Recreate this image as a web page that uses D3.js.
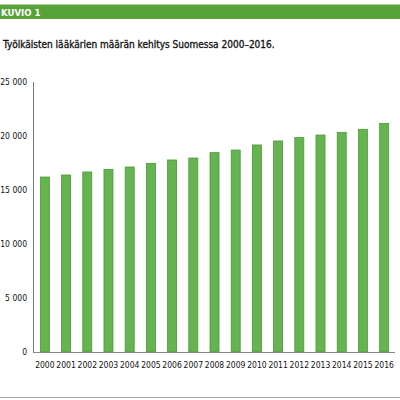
<!DOCTYPE html>
<html>
<head>
<meta charset="utf-8">
<script src="https://cdn.jsdelivr.net/npm/d3@7"></script>
<style>
  body { margin: 0; background: #fff; }
  svg { display: block; }
  text { font-family: "DejaVu Sans Condensed", "DejaVu Sans", sans-serif; }
</style>
</head>
<body>
<svg id="chart" width="400" height="400"></svg>
<script>
// data
var years = ['2000','2001','2002','2003','2004','2005','2006','2007','2008',
             '2009','2010','2011','2012','2013','2014','2015','2016'];
var doctors = [16200, 16390, 16670, 16910, 17130, 17470, 17780, 17960, 18460,
               18700, 19170, 19540, 19850, 20090, 20340, 20620, 21170];
var yTicks = [0, 5000, 10000, 15000, 20000, 25000];
var figLabel = 'KUVIO 1';
var title = 'Työikäisten lääkärien määrän kehitys Suomessa 2000–2016.';

var svg = d3.select('#chart');
var width = 400;

// header band
svg.append('rect').attr('x', 0).attr('y', 4).attr('width', width).attr('height', 1)
  .attr('fill', '#a9d08e');
svg.append('rect').attr('x', 0).attr('y', 5).attr('width', width).attr('height', 14)
  .attr('fill', '#58a23a');
svg.append('text').attr('x', 1).attr('y', 16)
  .attr('fill', '#fff').attr('font-size', 9.5).attr('font-weight', 'bold')
  .text(figLabel);

svg.append('text').attr('x', 3).attr('y', 48)
  .attr('fill', '#111').attr('font-size', 10)
  .attr('stroke', '#111').attr('stroke-width', 0.3)
  .text(title);

// bottom rule
svg.append('rect').attr('x', 0).attr('y', 397).attr('width', width).attr('height', 1)
  .attr('fill', '#aaa');

var x = d3.scaleBand()
  .domain(years)
  .range([34, 395])
  .paddingInner(0.575)
  .paddingOuter(0.3);

var y = d3.scaleLinear()
  .domain([0, 25000])
  .range([352, 82]);

var fmt = function(d) { return d3.format(',')(d).replace(/,/g, ' '); };

var g = svg.append('g');

g.selectAll('rect.bar')
  .data(doctors)
  .enter().append('rect')
    .attr('class', 'bar')
    .attr('x', function(d, i) { return x(years[i]); })
    .attr('y', function(d) { return y(d); })
    .attr('width', x.bandwidth())
    .attr('height', function(d) { return y(0) - y(d); })
    .attr('fill', '#66b352')
    .attr('stroke', '#4c9a34')
    .attr('stroke-width', 0.8);

// y axis
var yAxis = g.append('g')
  .attr('transform', 'translate(33,0)')
  .call(d3.axisLeft(y).tickValues(yTicks).tickSize(0).tickPadding(6).tickFormat(fmt));
yAxis.select('.domain').attr('stroke', '#777').attr('d', 'M0.5,' + y(25000) + 'V' + (y(0) + 0.5));
yAxis.selectAll('text').attr('font-size', 8.5).attr('fill', '#111')
  .attr('font-family', '"DejaVu Sans Condensed", sans-serif');

// x axis
var xAxis = g.append('g')
  .attr('transform', 'translate(0,' + y(0) + ')')
  .call(d3.axisBottom(x).tickSize(0).tickPadding(10));
xAxis.select('.domain').attr('stroke', '#888').attr('d', 'M33,0.5H395');
xAxis.selectAll('text').attr('font-size', 8.5).attr('fill', '#111')
  .attr('font-family', '"DejaVu Sans Condensed", sans-serif');
</script>
</body>
</html>
